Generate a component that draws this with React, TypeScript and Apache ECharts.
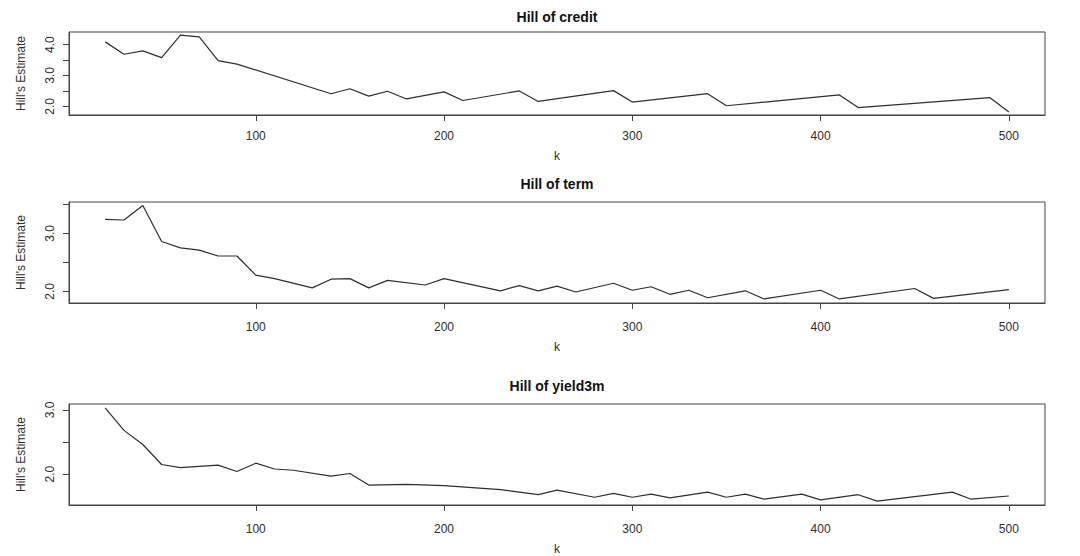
import React, { useEffect, useRef } from "react";
import * as echarts from "echarts";

// ---- data (k, Hill's estimate) ----
const creditK = [20, 30, 40, 50, 60, 70, 80, 90, 140, 150, 160, 170, 180, 200, 210, 240, 250, 290, 300, 340, 350, 410, 420, 490, 500];
const creditV = [4.09, 3.69, 3.8, 3.58, 4.31, 4.25, 3.48, 3.37, 2.41, 2.57, 2.33, 2.49, 2.24, 2.47, 2.19, 2.5, 2.16, 2.51, 2.14, 2.41, 2.02, 2.37, 1.96, 2.28, 1.82];

const termK = [20, 30, 40, 50, 60, 70, 80, 90, 100, 110, 130, 140, 150, 160, 170, 190, 200, 230, 240, 250, 260, 270, 290, 300, 310, 320, 330, 340, 360, 370, 400, 410, 450, 460, 500];
const termV = [3.24, 3.23, 3.48, 2.86, 2.75, 2.71, 2.61, 2.61, 2.28, 2.22, 2.06, 2.21, 2.22, 2.06, 2.19, 2.11, 2.22, 2.01, 2.1, 2.01, 2.09, 1.99, 2.14, 2.02, 2.08, 1.95, 2.02, 1.89, 2.01, 1.87, 2.02, 1.87, 2.05, 1.88, 2.03];

const yieldK = [20, 30, 40, 50, 60, 70, 80, 90, 100, 110, 120, 140, 150, 160, 180, 200, 230, 240, 250, 260, 280, 290, 300, 310, 320, 340, 350, 360, 370, 390, 400, 420, 430, 470, 480, 500];
const yieldV = [3.03, 2.68, 2.46, 2.15, 2.1, 2.12, 2.14, 2.04, 2.17, 2.08, 2.06, 1.97, 2.01, 1.83, 1.84, 1.82, 1.76, 1.72, 1.68, 1.75, 1.64, 1.7, 1.64, 1.69, 1.63, 1.72, 1.64, 1.69, 1.61, 1.69, 1.6, 1.68, 1.58, 1.72, 1.61, 1.66];

const titles = ["Hill of credit", "Hill of term", "Hill of yield3m"];
const xTicks = [100, 200, 300, 400, 500];
const yLabelVals = [[2, 3, 4], [2, 3], [2, 3]];
const yTickVals = [[2, 2.5, 3, 3.5, 4], [2, 2.5, 3, 3.5], [2, 2.5, 3]];
const yRanges = [[1.72, 4.41], [1.8, 3.54], [1.52, 3.09]];
const xRange = [0.8, 519.2];

const FONT = "'Liberation Sans', Arial, Helvetica, sans-serif";
const INK = "#2e2e2e";

// layout per panel
const boxes = [
  { top: 32, bottom: 115, title: 17, lblMargin: 15, nameGap: 35 },
  { top: 202, bottom: 303, title: 184, lblMargin: 18, nameGap: 38 },
  { top: 404, bottom: 505, title: 386, lblMargin: 18, nameGap: 38 },
];
const BOX_LEFT = 69;
const BOX_RIGHT = 1045;

export default function App() {
  const ref = useRef<HTMLDivElement>(null);
  useEffect(() => {
    if (!ref.current) return;
    const chart = echarts.init(ref.current, null, { renderer: "svg" });
    const seriesData = [
      creditK.map((k, i) => [k, creditV[i]]),
      termK.map((k, i) => [k, termV[i]]),
      yieldK.map((k, i) => [k, yieldV[i]]),
    ];
    const grid = boxes.map((b) => ({
      left: BOX_LEFT,
      right: 1080 - BOX_RIGHT,
      top: b.top,
      height: b.bottom - b.top,
      show: true,
      borderColor: "#444",
      borderWidth: 1,
      backgroundColor: "transparent",
      containLabel: false,
    }));
    const xAxis = boxes.map((b, i) => ({
      type: "value",
      gridIndex: i,
      min: xRange[0],
      max: xRange[1],
      name: "k",
      nameLocation: "middle",
      nameGap: b.nameGap,
      nameTextStyle: { fontFamily: FONT, fontSize: 12, color: INK },
      axisLine: { show: true, onZero: false, lineStyle: { color: "#444", width: 1 } },
      axisTick: { show: true, inside: false, length: 6, customValues: xTicks, lineStyle: { color: "#444" } },
      axisLabel: { show: true, customValues: xTicks, margin: b.lblMargin, fontFamily: FONT, fontSize: 12, color: INK },
      splitLine: { show: false },
    }));
    const yAxis = boxes.map((b, i) => ({
      type: "value",
      gridIndex: i,
      min: yRanges[i][0],
      max: yRanges[i][1],
      name: "Hill's Estimate",
      nameLocation: "middle",
      nameRotate: 90,
      nameGap: 42,
      nameTextStyle: { fontFamily: FONT, fontSize: 12, color: INK },
      axisLine: { show: true, lineStyle: { color: "#444", width: 1 } },
      axisTick: { show: true, inside: false, length: 6, customValues: yTickVals[i], lineStyle: { color: "#444" } },
      axisLabel: {
        show: true,
        customValues: yLabelVals[i],
        rotate: 90,
        margin: 13,
        fontFamily: FONT,
        fontSize: 12,
        color: INK,
        formatter: (v: number) => v.toFixed(1),
      },
      splitLine: { show: false },
    }));
    const series = seriesData.map((d, i) => ({
      type: "line",
      xAxisIndex: i,
      yAxisIndex: i,
      data: d,
      showSymbol: false,
      symbol: "none",
      lineStyle: { color: INK, width: 1.2 },
      silent: true,
    }));
    const graphic = boxes.map((b, i) => ({
      type: "text",
      x: (BOX_LEFT + BOX_RIGHT) / 2,
      y: b.title,
      style: {
        text: titles[i],
        fill: "#111",
        font: `bold 14px ${FONT}`,
        textAlign: "center",
        textVerticalAlign: "middle",
      },
    }));
    chart.setOption({
      animation: false,
      backgroundColor: "#ffffff",
      grid,
      xAxis,
      yAxis,
      series,
      graphic,
    });
    return () => chart.dispose();
  }, []);
  return (
    <div
      ref={ref}
      style={{ position: "fixed", left: 0, top: 0, width: 1080, height: 556 }}
    />
  );
}
